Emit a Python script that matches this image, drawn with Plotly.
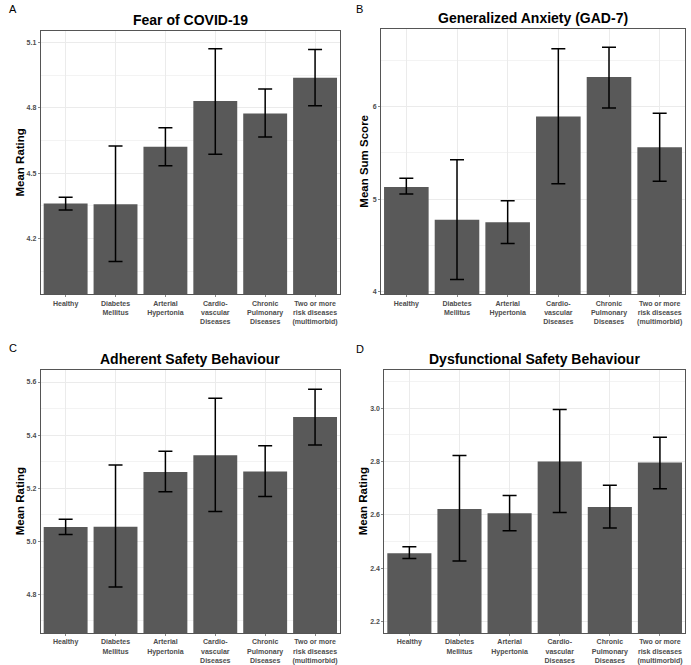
import plotly.graph_objects as go

W, H = 691, 665

categories = ["Healthy", "Diabetes<br>Mellitus", "Arterial<br>Hypertonia",
              "Cardio-<br>vascular<br>Diseases", "Chronic<br>Pulmonary<br>Diseases",
              "Two or more<br>risk diseases<br>(multimorbid)"]

# Panel A: Fear of COVID-19
fear_mean = [4.361, 4.358, 4.621, 4.831, 4.774, 4.938]
fear_upper = [4.390, 4.625, 4.709, 5.071, 4.886, 5.068]
fear_lower = [4.331, 4.095, 4.534, 4.587, 4.666, 4.809]

# Panel B: Generalized Anxiety (GAD-7)
gad_mean = [5.133, 4.779, 4.750, 5.893, 6.321, 5.562]
gad_upper = [5.225, 5.425, 4.983, 6.625, 6.640, 5.928]
gad_lower = [5.057, 4.132, 4.522, 5.168, 5.985, 5.193]

# Panel C: Adherent Safety Behaviour
adh_mean = [5.053, 5.054, 5.261, 5.324, 5.263, 5.468]
adh_upper = [5.082, 5.287, 5.339, 5.539, 5.360, 5.573]
adh_lower = [5.025, 4.827, 5.186, 5.112, 5.168, 5.363]

# Panel D: Dysfunctional Safety Behaviour
dys_mean = [2.456, 2.622, 2.606, 2.800, 2.629, 2.796]
dys_upper = [2.480, 2.823, 2.672, 2.995, 2.711, 2.891]
dys_lower = [2.436, 2.427, 2.540, 2.609, 2.550, 2.698]

panels = [
    dict(label="A", title="Fear of COVID-19", ytitle="Mean Rating",
         mean=fear_mean, up=fear_upper, lo=fear_lower,
         yr=[3.945, 5.153], dtick=0.3, minor=0.15, fmt=".1f",
         px=(40.7, 340), py=(31, 295), lab=(7, 9), ytx=20),
    dict(label="B", title="Generalized Anxiety (GAD-7)", ytitle="Mean Sum Score",
         mean=gad_mean, up=gad_upper, lo=gad_lower,
         yr=[3.975, 6.836], dtick=1, minor=0.5, fmt="d",
         px=(381, 685), py=(29.3, 295), lab=(354, 9), ytx=364),
    dict(label="C", title="Adherent Safety Behaviour", ytitle="Mean Rating",
         mean=adh_mean, up=adh_upper, lo=adh_lower,
         yr=[4.653, 5.647], dtick=0.2, minor=0.1, fmt=".1f",
         px=(40.7, 340), py=(370.7, 635), lab=(7, 349), ytx=20),
    dict(label="D", title="Dysfunctional Safety Behaviour", ytitle="Mean Rating",
         mean=dys_mean, up=dys_upper, lo=dys_lower,
         yr=[2.156, 3.145], dtick=0.2, minor=0.1, fmt=".1f",
         px=(384.3, 685), py=(370.7, 635), lab=(354, 350), ytx=363),
]

FONT = "Liberation Sans, Arial, sans-serif"
fig = go.Figure()
annotations = []
layout = {}

for i, p in enumerate(panels):
    n = "" if i == 0 else str(i + 1)
    xa, ya = "x" + n, "y" + n
    err_plus = [u - m for u, m in zip(p["up"], p["mean"])]
    err_minus = [m - l for m, l in zip(p["mean"], p["lo"])]
    base = p["yr"][0] - 1
    fig.add_trace(go.Bar(
        x=categories, y=[m - base for m in p["mean"]], base=base,
        xaxis=xa, yaxis=ya, width=0.88,
        marker=dict(color="#595959", line=dict(width=0)),
        showlegend=False, hoverinfo="skip",
    ))
    fig.add_trace(go.Scatter(
        x=categories, y=p["mean"], mode="markers",
        marker=dict(size=0.1, color="rgba(0,0,0,0)"),
        error_y=dict(type="data", symmetric=False, array=err_plus,
                     arrayminus=err_minus, color="black", thickness=1.5, width=7),
        xaxis=xa, yaxis=ya, showlegend=False, hoverinfo="skip",
    ))
    dx = [p["px"][0] / W, p["px"][1] / W]
    dy = [1 - p["py"][1] / H, 1 - p["py"][0] / H]
    layout["xaxis" + n] = dict(
        domain=dx, anchor=ya, type="category", range=[-0.5, 5.5],
        showgrid=True, gridcolor="#EBEBEB", gridwidth=1,
        showline=True, linecolor="#555555", linewidth=1, mirror=True,
        ticks="outside", ticklen=2, tickcolor="#888888",
        tickfont=dict(family=FONT, size=7, color="#4D4D4D", weight="bold"),
        fixedrange=True, zeroline=False,
    )
    layout["yaxis" + n] = dict(
        domain=dy, anchor=xa, range=p["yr"],
        tick0=0, dtick=p["dtick"], tickformat=p["fmt"],
        showgrid=True, gridcolor="#EBEBEB", gridwidth=1,
        minor=dict(dtick=p["minor"], tick0=0, showgrid=True,
                   gridcolor="#F3F3F3", gridwidth=1),
        showline=True, linecolor="#555555", linewidth=1, mirror=True,
        ticks="outside", ticklen=2, tickcolor="#888888",
        tickfont=dict(family=FONT, size=7, color="#4D4D4D", weight="bold"),
        fixedrange=True, zeroline=False,
    )
    annotations.append(dict(text=p["label"], x=p["lab"][0] / W, y=1 - p["lab"][1] / H,
                            xref="paper", yref="paper", xanchor="left", yanchor="middle",
                            showarrow=False, font=dict(family=FONT, size=11, color="black")))
    annotations.append(dict(text="<b>" + p["title"] + "</b>",
                            x=(p["px"][0] + p["px"][1]) / 2 / W,
                            y=1 - (p["py"][0] - 11) / H,
                            xref="paper", yref="paper", xanchor="center", yanchor="middle",
                            showarrow=False, font=dict(family=FONT, size=14, color="black")))
    annotations.append(dict(text="<b>" + p["ytitle"] + "</b>", textangle=-90,
                            x=p["ytx"] / W, y=1 - (p["py"][0] + p["py"][1]) / 2 / H,
                            xref="paper", yref="paper", xanchor="center", yanchor="middle",
                            showarrow=False, font=dict(family=FONT, size=11.5, color="black")))

fig.update_layout(
    width=W, height=H, margin=dict(l=0, r=0, t=0, b=0),
    paper_bgcolor="white", plot_bgcolor="white",
    annotations=annotations, bargap=0.1, **layout,
)
fig.write_html(
    "out.html",
    config={"displayModeBar": False, "staticPlot": True},
    post_script="document.body.style.margin='0';document.body.style.overflow='hidden';",
)
